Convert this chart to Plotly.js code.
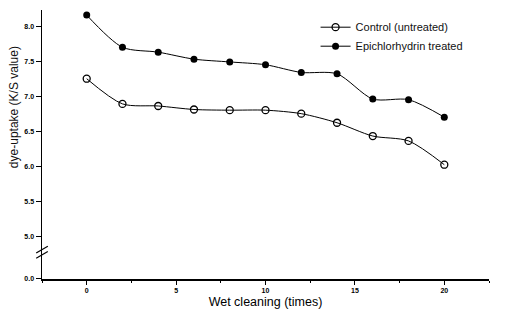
<!DOCTYPE html>
<html>
<head>
<meta charset="utf-8">
<script src="https://cdn.plot.ly/plotly-3.0.1.min.js"></script>
<style>html,body{margin:0;padding:0;background:#fff;}#chart{width:510px;height:312px;}</style>
</head>
<body>
<div id="chart"></div>
<script>
const washes = [0, 2, 4, 6, 8, 10, 12, 14, 16, 18, 20];
const controlValues = [7.26, 6.90, 6.87, 6.82, 6.81, 6.81, 6.76, 6.63, 6.44, 6.37, 6.03];
const epiValues = [8.17, 7.71, 7.64, 7.54, 7.50, 7.46, 7.35, 7.33, 6.97, 6.96, 6.71];
const seriesNames = ["Control (untreated)", "Epichlorhydrin treated"];
const yTickVals = [4.4, 5.0, 5.5, 6.0, 6.5, 7.0, 7.5, 8.0];
const yTickText = ["0.0", "5.0", "5.5", "6.0", "6.5", "7.0", "7.5", "8.0"];
const xTickVals = [0, 5, 10, 15, 20];

const FONT = "Liberation Sans, Arial, sans-serif";
const traces = [
  {x: washes, y: controlValues, name: seriesNames[0], type: "scatter", mode: "lines+markers",
   line: {color: "#000", width: 1, shape: "spline", smoothing: 0.8},
   marker: {symbol: "circle-open", size: 7, color: "#000", line: {width: 1.3, color: "#000"}}},
  {x: washes, y: epiValues, name: seriesNames[1], type: "scatter", mode: "lines+markers",
   line: {color: "#000", width: 1, shape: "spline", smoothing: 0.8},
   marker: {symbol: "circle", size: 7, color: "#000"}}
];
const layout = {
  width: 510, height: 312,
  margin: {l: 42, r: 21, t: 10, b: 33},
  paper_bgcolor: "#fff", plot_bgcolor: "#fff",
  font: {family: FONT, color: "#000"},
  showlegend: true,
  legend: {x: 0.612, y: 0.99, xanchor: "left", yanchor: "top", bgcolor: "rgba(0,0,0,0)",
           font: {size: 11, family: FONT, color: "#111"}, itemwidth: 30, tracegroupgap: 0},
  xaxis: {range: [-2.5, 22.5], tickvals: xTickVals, ticktext: xTickVals.map(String),
          ticks: "outside", ticklen: 4, tickwidth: 1, tickcolor: "#000",
          minor: {dtick: 2.5, tick0: 0, ticks: "outside", ticklen: 2, tickcolor: "#000"},
          showline: true, linecolor: "#000", linewidth: 1.5, showgrid: false, zeroline: false,
          tickfont: {size: 7, family: FONT, weight: "bold"},
          title: {text: "Wet cleaning (times)", font: {size: 12.5, family: FONT}, standoff: 4}},
  yaxis: {range: [4.395, 8.243], tickvals: yTickVals, ticktext: yTickText,
          ticks: "outside", ticklen: 5, tickwidth: 1, tickcolor: "#000",
          showline: true, linecolor: "#000", linewidth: 1.5, showgrid: false, zeroline: false,
          tickfont: {size: 7, family: FONT, weight: "bold"}, title: {text: ""}},
  annotations: [
    {text: "dye-uptake (K/S value)", xref: "paper", yref: "paper", x: -0.062, y: 0.64,
     xanchor: "center", yanchor: "middle", textangle: -90, showarrow: false,
     font: {size: 12, family: FONT, color: "#111"}}
  ],
  shapes: [
    {type: "line", xref: "paper", yref: "paper", x0: -0.013, y0: 0.097, x1: 0.013, y1: 0.122, line: {color: "#000", width: 1.2}},
    {type: "line", xref: "paper", yref: "paper", x0: -0.013, y0: 0.077, x1: 0.013, y1: 0.102, line: {color: "#000", width: 1.2}}
  ]
};
Plotly.newPlot("chart", traces, layout, {displayModeBar: false, staticPlot: true});
</script>
</body>
</html>
